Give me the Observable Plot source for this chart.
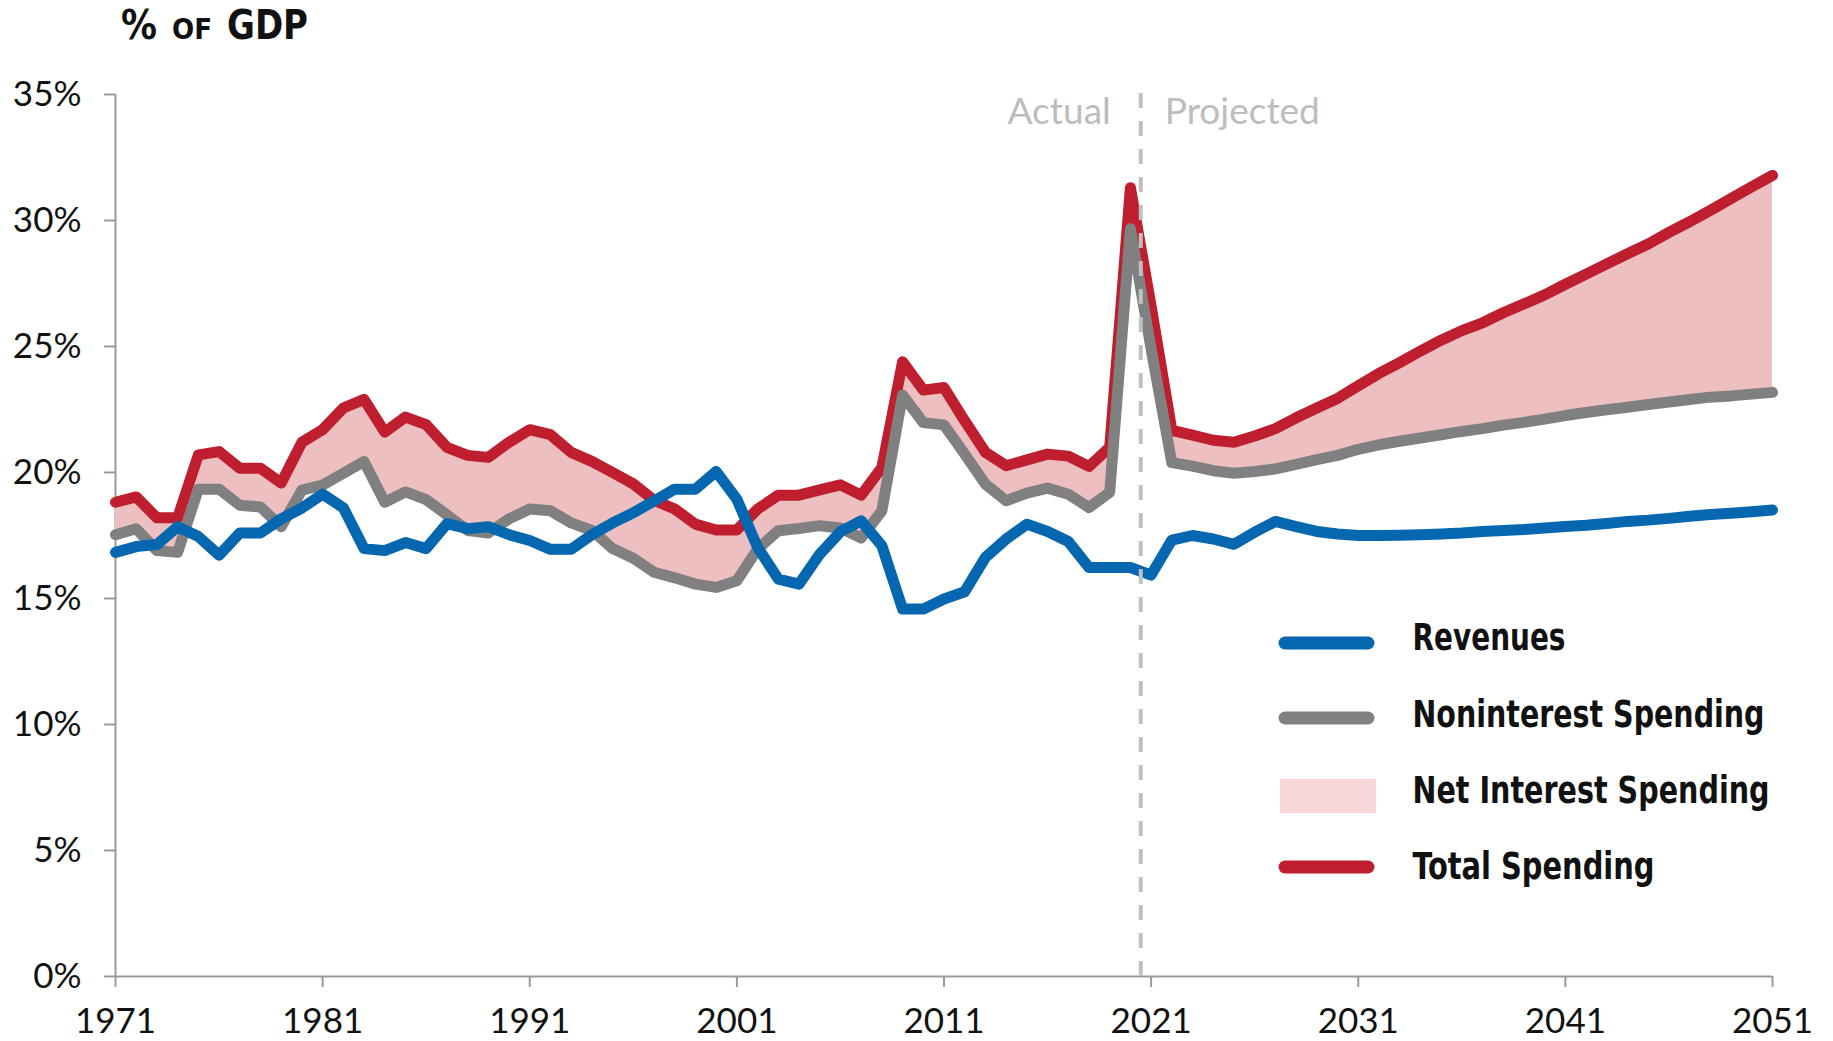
<!DOCTYPE html>
<html>
<head>
<meta charset="utf-8">
<script src="https://cdn.jsdelivr.net/npm/d3@7"></script>
<script src="https://cdn.jsdelivr.net/npm/@observablehq/plot@0.6"></script>
<style>
  html, body { margin: 0; padding: 0; background: #fff; }
  #wrap { position: relative; width: 1833px; height: 1041px; overflow: hidden; }
  #chart { position: absolute; left: 0; top: 0; }
  #overlay { position: absolute; left: 0; top: 0; pointer-events: none; }
  #overlay text {
    font-family: "DejaVu Sans Condensed", "DejaVu Sans", sans-serif;
    font-weight: bold; fill: #111;
  }
</style>
</head>
<body>
<div id="wrap">
  <div id="chart"></div>
  <svg id="overlay" width="1833" height="1041"></svg>
</div>
<script>
// ---- data (% of GDP) ----
const years = d3.range(1971, 2052);

const revenues = [
  16.83, 17.06, 17.14, 17.85, 17.46, 16.72, 17.6, 17.6, 18.16, 18.59,
  19.14, 18.6, 16.98, 16.9, 17.22, 16.98, 17.97, 17.77, 17.85, 17.53,
  17.3, 16.95, 16.95, 17.53, 18.0, 18.4, 18.87, 19.34, 19.34, 20.04,
  18.94, 17.03, 15.77, 15.57, 16.76, 17.65, 18.08, 17.09, 14.58, 14.58,
  14.98, 15.27, 16.63, 17.36, 17.95, 17.66, 17.26, 16.23, 16.23, 16.23,
  15.93, 17.32, 17.5, 17.36, 17.15, 17.63, 18.06, 17.85, 17.66, 17.56,
  17.5, 17.5, 17.51, 17.53, 17.56, 17.6, 17.66, 17.7, 17.74, 17.8,
  17.86, 17.91, 17.98, 18.06, 18.11, 18.18, 18.26, 18.33, 18.38, 18.44,
  18.51
];

const noninterestSpending = [
  17.53, 17.77, 16.9, 16.83, 19.34, 19.34, 18.7, 18.63, 17.85, 19.3,
  19.5, 19.97, 20.44, 18.82, 19.23, 18.92, 18.32, 17.7, 17.6, 18.16,
  18.55, 18.48, 18.0, 17.7, 16.98, 16.6, 16.04, 15.82, 15.57, 15.44,
  15.7, 16.96, 17.69, 17.78, 17.89, 17.8, 17.4, 18.48, 23.07, 21.98,
  21.89, 20.73, 19.54, 18.88, 19.18, 19.38, 19.14, 18.61, 19.21, 29.67,
  24.9, 20.39, 20.25, 20.07, 19.97, 20.04, 20.14, 20.32, 20.51, 20.68,
  20.92, 21.1, 21.24, 21.37, 21.5, 21.63, 21.74, 21.88, 21.99, 22.12,
  22.26, 22.38, 22.49, 22.59, 22.7, 22.8, 22.9, 22.99, 23.04, 23.11,
  23.18
];

const totalSpending = [
  18.82, 19.03, 18.2, 18.2, 20.7, 20.83, 20.17, 20.17, 19.58, 21.2,
  21.7, 22.56, 22.9, 21.6, 22.2, 21.9, 21.0, 20.68, 20.6, 21.2,
  21.7, 21.5, 20.8, 20.44, 20.0, 19.55, 18.9, 18.55, 17.95, 17.72,
  17.72, 18.55, 19.1, 19.1, 19.31, 19.51, 19.1, 20.2, 24.39, 23.27,
  23.37, 22.05, 20.8, 20.27, 20.5, 20.73, 20.65, 20.24, 21.0, 31.3,
  26.6, 21.67, 21.48, 21.28, 21.2, 21.45, 21.74, 22.17, 22.56, 22.94,
  23.44, 23.93, 24.36, 24.82, 25.25, 25.63, 25.94, 26.34, 26.69, 27.05,
  27.47, 27.87, 28.28, 28.68, 29.07, 29.53, 29.95, 30.4, 30.87, 31.34,
  31.79
];

const xTicks = [1971, 1981, 1991, 2001, 2011, 2021, 2031, 2041, 2051];
const yTicks = [0, 5, 10, 15, 20, 25, 30, 35];
const dividerYear = [2020.5];
const periodLabels = ["Actual", "Projected"];
const legendLabels = ["Revenues", "Noninterest Spending", "Net Interest Spending", "Total Spending"];
const titleParts = ["%", "OF", "GDP"];

// ---- styles ----
const BLUE = "#0567b0";
const GRAY = "#808080";
const RED = "#be1e2d";
const FILL = "#edbfc0";
const FILL_LEGEND = "#f8d7da";
const AXIS = "#9a9a9a";
const LW = 11;

const data = years.map((year, i) => ({
  year,
  revenues: revenues[i],
  nonint: noninterestSpending[i],
  total: totalSpending[i]
}));

const chart = Plot.plot({
  width: 1833,
  height: 1041,
  marginLeft: 115,
  marginRight: 61,
  marginTop: 94,
  marginBottom: 65,
  style: { fontFamily: "Lato, 'Open Sans', sans-serif", fontSize: "35px", color: "#111", background: "#fff", overflow: "visible" },
  x: { type: "linear", domain: [1971, 2051] },
  y: { type: "linear", domain: [0, 35] },
  marks: [
    Plot.ruleY([0], { stroke: AXIS, strokeWidth: 2 }),
    Plot.ruleX([1971], { stroke: AXIS, strokeWidth: 2 }),
    Plot.axisY({ ticks: yTicks, tickFormat: d => d + "%", tickSize: 11, tickPadding: 23, stroke: AXIS, strokeWidth: 2, fill: "#111", fontSize: 35, label: null }),
    Plot.axisX({ ticks: xTicks, tickFormat: d => String(d), tickSize: 11, tickPadding: 21, stroke: AXIS, strokeWidth: 2, fill: "#111", fontSize: 35, label: null }),
    Plot.areaY(data, { x: "year", y1: "nonint", y2: "total", fill: FILL }),
    Plot.lineY(data, { x: "year", y: "total", stroke: RED, strokeWidth: LW, strokeLinejoin: "round" }),
    Plot.lineY(data, { x: "year", y: "nonint", stroke: GRAY, strokeWidth: LW, strokeLinejoin: "round" }),
    Plot.lineY(data, { x: "year", y: "revenues", stroke: BLUE, strokeWidth: LW, strokeLinejoin: "round" }),
    Plot.ruleX(dividerYear, { stroke: "#c0c0c0", strokeWidth: 4, strokeDasharray: "15,13", y1: 0, y2: 35.3 }),
    Plot.text([periodLabels[0]], { x: dividerYear[0], y: 35, text: d => d, textAnchor: "end", lineAnchor: "bottom", dx: -30, dy: 29, fill: "#bdbdbd", fontSize: 37 }),
    Plot.text([periodLabels[1]], { x: dividerYear[0], y: 35, text: d => d, textAnchor: "start", lineAnchor: "bottom", dx: 24, dy: 29, fill: "#bdbdbd", fontSize: 37 })
  ]
});
document.getElementById("chart").appendChild(chart);

// ---- overlay: title + legend ----
const ov = d3.select("#overlay");
function fitText(x, y, str, size, len) {
  ov.append("text").attr("x", x).attr("y", y)
    .attr("font-size", size)
    .attr("textLength", len).attr("lengthAdjust", "spacingAndGlyphs")
    .text(str);
}
// title "% OF GDP" (small caps OF)
fitText(121, 39, titleParts[0], 40, 36);
fitText(172, 39, titleParts[1], 29, 40);
fitText(227, 39, titleParts[2], 40, 81);

const legendItems = [
  { label: legendLabels[0], kind: "line", color: BLUE, y: 643, base: 650, len: 153 },
  { label: legendLabels[1], kind: "line", color: GRAY, y: 718, base: 726.5, len: 352 },
  { label: legendLabels[2], kind: "rect", color: FILL_LEGEND, y: 796, base: 803, len: 357 },
  { label: legendLabels[3], kind: "line", color: RED, y: 867, base: 879, len: 242 }
];
for (const it of legendItems) {
  if (it.kind === "line") {
    ov.append("line").attr("x1", 1285).attr("x2", 1368).attr("y1", it.y).attr("y2", it.y)
      .attr("stroke", it.color).attr("stroke-width", 13).attr("stroke-linecap", "round");
  } else {
    ov.append("rect").attr("x", 1280).attr("y", it.y - 17).attr("width", 96).attr("height", 34)
      .attr("fill", it.color);
  }
  fitText(1412.5, it.base, it.label, 37, it.len);
}
</script>
</body>
</html>
